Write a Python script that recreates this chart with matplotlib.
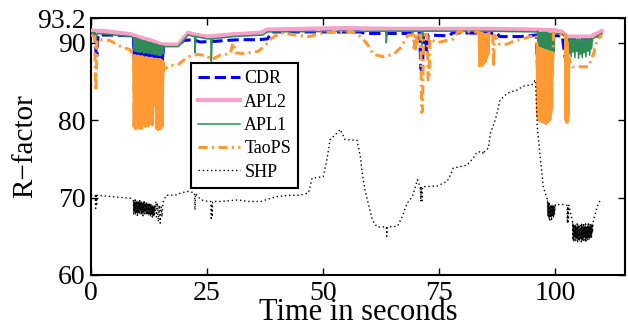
import numpy as np
import matplotlib
matplotlib.use('Agg')
import matplotlib.pyplot as plt

plt.rcParams['font.family'] = ['Liberation Serif', 'DejaVu Serif']

# (time, R-factor) pairs, one list per method
cdr = [(0.0, 91.0), (0.9, 91.0), (1.1, 88.6), (1.3, 88.4), (1.5, 91.0), (4.0, 91.0), (8.8, 90.9),
       (9.2, 90.6), (9.35, 87.8), (9.5, 90.5), (9.65, 87.6), (9.8, 90.5), (9.95, 87.9), (10.1, 90.4),
       (10.25, 87.7), (10.4, 90.4), (10.55, 87.6), (10.7, 90.3), (10.85, 87.8), (11.0, 90.3), (11.15, 87.5),
       (11.3, 90.2), (11.45, 87.7), (11.6, 90.2), (11.75, 87.6), (11.9, 90.1), (12.05, 87.8), (12.2, 90.1),
       (12.35, 87.5), (12.5, 90.0), (12.65, 87.7), (12.8, 90.0), (12.95, 87.4), (13.1, 89.9), (13.25, 87.6),
       (13.4, 89.9), (13.55, 87.3), (13.7, 89.8), (13.85, 87.5), (14.0, 89.8), (14.15, 87.3), (14.3, 89.7),
       (14.45, 87.4), (14.6, 89.7), (14.75, 87.2), (14.9, 89.7), (15.05, 87.4), (15.2, 89.6), (15.35, 87.8),
       (15.6, 89.7), (16.0, 89.7), (19.0, 89.8), (20.0, 90.3), (22.0, 90.4), (23.5, 90.1), (27.0, 90.2),
       (29.0, 90.3), (32.0, 90.4), (36.0, 90.4), (38.0, 90.5), (39.0, 91.4), (58.0, 91.4), (59.0, 91.2),
       (66.0, 91.2), (70.8, 91.2), (71.0, 86.7), (71.2, 86.5), (71.4, 86.8), (71.6, 91.0), (72.1, 91.0),
       (72.2, 89.1), (72.4, 89.0), (72.6, 91.0), (77.0, 90.9), (78.0, 91.3), (87.5, 91.2), (88.0, 90.8),
       (92.5, 90.8), (95.9, 91.0), (96.2, 86.3), (96.4, 86.0), (96.6, 89.0), (97.0, 88.5), (99.4, 88.8),
       (99.6, 90.9), (101.5, 90.9), (102.0, 88.5), (102.4, 87.2), (102.7, 90.5), (106.0, 90.5),
       (108.0, 90.4), (110.0, 91.3)]

apl2 = [(0.0, 91.6), (3.0, 91.5), (8.6, 91.1), (10.0, 90.8), (13.0, 90.3), (15.1, 89.8), (18.8, 89.75),
        (20.9, 91.3), (22.0, 91.1), (25.0, 90.8), (27.0, 90.9), (30.6, 91.1), (36.5, 91.3), (38.0, 91.7),
        (45.0, 91.8), (55.0, 91.9), (65.0, 91.8), (75.0, 91.8), (85.0, 91.8), (96.3, 91.7), (100.0, 91.6),
        (101.5, 91.4), (102.5, 90.8), (107.5, 90.8), (110.0, 91.5)]

apl1 = [(0.0, 91.3), (0.9, 91.3), (1.1, 90.2), (1.3, 91.2), (8.6, 90.8),
        (9.2, 90.6), (9.4, 89.0), (9.6, 90.6), (9.8, 88.9), (10.0, 90.5), (10.2, 88.9), (10.4, 90.4),
        (10.6, 88.8), (10.8, 90.3), (11.0, 88.9), (11.2, 90.2), (11.4, 88.7), (11.6, 90.2), (11.8, 88.8),
        (12.0, 90.1), (12.2, 88.7), (12.4, 90.0), (12.6, 88.7), (12.8, 90.0), (13.0, 88.6), (13.2, 89.9),
        (13.4, 88.6), (13.6, 89.8), (13.8, 88.5), (14.0, 89.8), (14.2, 88.5), (14.4, 89.7), (14.6, 88.4),
        (14.8, 89.6), (15.0, 88.4), (15.2, 89.6), (15.4, 88.6), (15.6, 89.5),
        (18.8, 89.5), (20.9, 91.0), (22.3, 90.8), (22.4, 88.7), (22.6, 90.8), (25.0, 90.5), (25.8, 90.5),
        (25.9, 87.6), (26.1, 90.5), (30.6, 90.8), (37.0, 91.0), (38.0, 91.4), (63.5, 91.5), (63.6, 90.0),
        (63.8, 91.5), (69.1, 91.5), (69.2, 91.0), (69.4, 91.5), (71.2, 91.5), (71.3, 89.6), (71.5, 91.5),
        (84.0, 91.5), (84.2, 91.0), (84.4, 91.5), (96.2, 91.4),
        (96.4, 89.4), (96.6, 91.3), (96.8, 89.3), (97.0, 91.3), (97.2, 89.2), (97.4, 91.3), (97.6, 89.1),
        (97.8, 91.3), (98.0, 89.0), (98.2, 91.3), (98.4, 88.9), (98.6, 91.2), (98.8, 88.8), (99.0, 91.2),
        (99.2, 88.7), (99.4, 91.2), (99.6, 88.7), (99.7, 91.2),
        (101.5, 91.1), (102.5, 90.5),
        (102.8, 90.5), (103.0, 88.6), (103.2, 90.5), (103.4, 88.2), (103.6, 90.5), (103.8, 88.8),
        (104.0, 90.5), (104.2, 88.1), (104.4, 90.5), (104.6, 88.9), (104.8, 90.5), (105.0, 88.0),
        (105.2, 90.5), (105.4, 88.5), (105.6, 90.5), (105.8, 88.1), (106.0, 90.5), (106.2, 88.7),
        (106.4, 90.5), (106.6, 88.2), (106.8, 90.5), (107.0, 88.9), (107.2, 90.5), (107.4, 88.4),
        (107.6, 90.5), (107.8, 89.2), (108.0, 90.5), (110.0, 91.2)]

taops = [(0.0, 91.0), (0.8, 90.8), (0.95, 85.0), (1.05, 83.8), (1.15, 86.0), (1.3, 90.4), (4.0, 90.3),
         (6.5, 89.5), (8.4, 89.1),
         (9.2, 88.3), (9.3, 79.2), (9.5, 88.3), (9.6, 78.9), (9.8, 88.2), (9.9, 79.4), (10.1, 88.3),
         (10.2, 79.0), (10.4, 88.2), (10.5, 79.3), (10.7, 88.1), (10.8, 78.9), (11.0, 88.2), (11.1, 79.5),
         (11.3, 88.1), (11.4, 79.6), (11.6, 88.0), (11.7, 79.2), (11.9, 88.1), (12.0, 79.8), (12.2, 88.0),
         (12.3, 79.3), (12.5, 88.0), (12.6, 79.6), (12.8, 87.9), (12.9, 80.5), (13.1, 88.0), (13.2, 79.4),
         (13.4, 87.9), (13.5, 82.0), (13.7, 87.8), (13.8, 86.0), (14.0, 87.9), (14.1, 79.0), (14.3, 87.8),
         (14.4, 78.8), (14.6, 87.8), (14.7, 79.1), (14.9, 87.8), (15.0, 78.9), (15.2, 87.7), (15.3, 79.2),
         (15.5, 87.5), (15.6, 86.5),
         (16.6, 87.0), (18.8, 87.2), (20.9, 88.2), (23.0, 88.5), (25.0, 88.3), (25.9, 87.8), (27.8, 88.4),
         (30.0, 88.6), (30.6, 90.0), (31.2, 88.7), (33.0, 88.6), (36.0, 88.9), (37.5, 89.6), (38.5, 90.4),
         (40.7, 91.3), (44.0, 91.0), (47.0, 90.8), (50.0, 91.3), (55.0, 91.4), (57.0, 91.3), (58.0, 90.8),
         (59.0, 90.2), (60.1, 89.3), (60.8, 88.5), (63.0, 88.2), (65.1, 88.5), (66.6, 89.3), (67.7, 90.4),
         (68.3, 91.0), (69.5, 91.0), (69.6, 89.3), (69.8, 90.8), (69.9, 89.2), (70.1, 90.9), (70.2, 89.6),
         (70.4, 91.0), (71.0, 91.0), (71.2, 81.0), (71.4, 81.2), (71.6, 91.0), (72.4, 91.0), (72.6, 85.2),
         (72.8, 85.4), (73.0, 90.5), (74.5, 90.0), (76.7, 90.3), (78.0, 90.5), (79.0, 91.4), (83.4, 91.4),
         (83.6, 91.3), (83.7, 87.0), (83.9, 91.2), (84.0, 87.2), (84.2, 91.2), (84.3, 87.1), (84.5, 91.1),
         (84.6, 87.4), (84.8, 91.1), (84.9, 87.6), (85.1, 91.0), (85.2, 88.0), (85.4, 91.1), (85.5, 88.6),
         (85.7, 91.2), (86.0, 91.2), (86.5, 91.0), (86.7, 86.9), (86.9, 91.0), (88.0, 89.8), (89.5, 89.8),
         (91.0, 90.2), (93.0, 90.5), (94.5, 90.8), (95.8, 91.0),
         (96.1, 89.3), (96.2, 80.5), (96.3, 89.3), (96.4, 80.0), (96.5, 89.2), (96.6, 80.8), (96.7, 89.2),
         (96.8, 79.9), (96.9, 89.2), (97.0, 80.3), (97.1, 89.1), (97.2, 79.8), (97.3, 89.1), (97.4, 80.6),
         (97.5, 89.0), (97.6, 79.7), (97.7, 89.0), (97.8, 80.2), (97.9, 89.0), (98.0, 79.6), (98.1, 88.9),
         (98.2, 80.0), (98.3, 88.9), (98.4, 79.8), (98.5, 88.8), (98.6, 80.4), (98.7, 88.8), (98.8, 80.1),
         (98.9, 88.7), (99.0, 80.9), (99.1, 88.7), (99.2, 81.5), (99.3, 88.7), (99.4, 86.0),
         (99.6, 91.2), (102.2, 91.0), (102.3, 80.0), (102.4, 90.5), (102.5, 79.7), (102.6, 90.0),
         (102.7, 80.5), (102.9, 88.0), (103.7, 86.9), (107.1, 86.9), (108.2, 88.5), (109.0, 90.4),
         (110.0, 91.0)]

shp = [(0.0, 70.3), (0.9, 70.3), (1.0, 68.6), (1.1, 70.2), (1.2, 68.9), (1.3, 70.3), (5.0, 70.1), (8.6, 69.9),
       (9.1, 69.6), (9.2, 67.9), (9.3, 69.4), (9.4, 68.2), (9.5, 69.7), (9.6, 67.8), (9.7, 69.5), (9.8, 68.0),
       (9.9, 69.6), (10.0, 67.7), (10.1, 69.3), (10.2, 68.1), (10.3, 69.5), (10.4, 67.9), (10.5, 69.6),
       (10.6, 68.3), (10.7, 69.4), (10.8, 67.8), (10.9, 69.5), (11.0, 68.0), (11.1, 69.3), (11.2, 67.6),
       (11.3, 69.4), (11.4, 68.1), (11.5, 69.5), (11.6, 67.9), (11.7, 69.2), (11.8, 68.2), (11.9, 69.4),
       (12.0, 67.8), (12.1, 69.3), (12.2, 68.0), (12.3, 69.1), (12.4, 67.7), (12.5, 69.3), (12.6, 67.9),
       (12.7, 69.0), (12.8, 67.6), (12.9, 69.2), (13.0, 67.8), (13.1, 68.9), (13.2, 67.5), (13.3, 69.0),
       (13.4, 67.7), (13.5, 68.8), (13.6, 67.6), (13.7, 68.9), (13.8, 68.3),
       (14.0, 69.5), (14.1, 67.5), (14.3, 69.3), (14.5, 66.9), (14.7, 69.0), (14.9, 66.7), (15.1, 68.8),
       (15.3, 67.5), (15.5, 69.4),
       (16.2, 70.3), (18.1, 70.3), (19.4, 70.6), (20.9, 70.8), (22.3, 70.6), (22.4, 68.4), (22.5, 70.5),
       (23.7, 69.7), (25.2, 69.5), (25.8, 69.5), (25.9, 67.1), (26.0, 69.2), (26.1, 67.5), (26.2, 69.5),
       (28.0, 69.5), (31.7, 69.7), (33.8, 69.5), (36.6, 69.5), (39.7, 70.1), (42.5, 70.3), (45.0, 70.3),
       (46.8, 70.6), (47.2, 71.4), (47.6, 72.5), (50.0, 72.7), (50.8, 74.9), (51.5, 77.5), (52.6, 78.1),
       (53.7, 78.8), (54.7, 77.5), (57.3, 77.4), (58.0, 75.3), (58.4, 73.2), (59.0, 71.0), (59.7, 69.3),
       (60.6, 67.1), (61.6, 66.2), (63.6, 66.2), (63.7, 65.0), (63.8, 66.2), (66.0, 66.3), (67.0, 67.5),
       (68.1, 69.3), (69.2, 70.1), (70.3, 72.3), (70.9, 71.4), (71.0, 69.5), (71.1, 71.4), (71.3, 69.6),
       (71.4, 71.4), (74.6, 71.5), (76.7, 72.1), (77.4, 72.9), (78.0, 73.8), (81.0, 74.2), (82.3, 75.1),
       (83.2, 75.9), (84.3, 75.9), (84.5, 75.6), (84.7, 75.9), (85.6, 76.4), (86.0, 78.3), (87.1, 80.1),
       (88.1, 82.6), (89.7, 83.5), (91.8, 83.9), (93.1, 84.4), (95.0, 84.6), (95.7, 85.2), (96.1, 79.2),
       (96.8, 74.9), (97.4, 71.4), (98.3, 69.7),
       (98.4, 67.6), (98.5, 69.4), (98.6, 67.3), (98.7, 69.2), (98.8, 67.1), (98.9, 69.0), (99.0, 67.5),
       (99.1, 68.9), (99.2, 67.2), (99.3, 69.1), (99.4, 67.6), (99.5, 68.9), (99.6, 67.4), (99.7, 69.0),
       (99.8, 67.8), (100.0, 69.1),
       (101.7, 69.1), (102.5, 69.0), (102.6, 66.7), (102.7, 68.9), (102.8, 66.9), (102.9, 69.0), (103.7, 66.9),
       (103.8, 64.5), (103.9, 66.6), (104.0, 64.3), (104.1, 66.4), (104.2, 64.9), (104.3, 66.5), (104.4, 64.4),
       (104.5, 66.2), (104.6, 64.7), (104.7, 66.6), (104.8, 64.3), (104.9, 66.3), (105.0, 64.6), (105.1, 66.5),
       (105.2, 64.4), (105.3, 66.1), (105.4, 64.8), (105.5, 66.4), (105.6, 64.3), (105.7, 66.6), (105.8, 64.6),
       (105.9, 66.2), (106.0, 64.4), (106.1, 66.5), (106.2, 64.9), (106.3, 66.3), (106.4, 64.5), (106.5, 66.6),
       (106.6, 64.3), (106.7, 66.2), (106.8, 64.7), (106.9, 66.4), (107.0, 64.5), (107.1, 66.6), (107.2, 64.8),
       (107.3, 66.3), (107.4, 64.6), (107.5, 66.5), (107.6, 65.0), (107.7, 66.4), (107.8, 64.9), (107.9, 66.6),
       (108.0, 65.5), (108.2, 67.1), (109.0, 68.8), (109.7, 69.7)]

# time windows where the series oscillate so fast they render as solid bands
cdr_bursts = [(9.2, 15.6)]
apl1_bursts = [(9.2, 15.6), (96.2, 99.7)]
taops_bursts = [(9.2, 15.6), (83.6, 85.7), (96.1, 99.4), (102.2, 102.9)]
shp_bursts = [(9.1, 13.8), (98.3, 100.0), (103.7, 108.0)]

yticks = [60, 70, 80, 90, 93.2]
ytick_labels = ['60', '70', '80', '90', '93.2']
xticks = [0, 25, 50, 75, 100]

fig = plt.figure(figsize=(6.28, 3.30), dpi=100)
ax = fig.add_axes([91/628, 55/330, 534/628, 257/330])

series = [
    (cdr, cdr_bursts, 'CDR', dict(color='#0000ff', lw=2.2, ls='--'), 2.2),
    (apl2, [], 'APL2', dict(color='#f7a0c8', lw=3.0, ls='-'), 3.0),
    (apl1, apl1_bursts, 'APL1', dict(color='#2e8b57', lw=1.1, ls='-'), 1.6),
    (taops, taops_bursts, 'TaoPS', dict(color='#ff9933', lw=2.2, ls=(0, (3, 1.4, 0.7, 1.4))), 2.2),
    (shp, shp_bursts, 'SHP', dict(color='black', lw=1.0, ls=(0, (1, 2))), 0.5),
]
for i, (pts, bursts, name, style, burst_lw) in enumerate(series):
    t, v = np.array(pts).T
    ax.plot(t, v, label=name, zorder=2 + i, **style)
    for t0, t1 in bursts:
        m = (t >= t0) & (t <= t1)
        ax.plot(t[m], v[m], color=style['color'], lw=burst_lw, ls='-', zorder=2 + i,
                alpha=0.85 if name == 'SHP' else 1)

ax.set_xlim(0, 115)
ax.set_ylim(60, 93.2)
ax.set_xticks(xticks)
ax.set_yticks(yticks)
ax.set_yticklabels(ytick_labels)
ax.tick_params(direction='in', length=5, width=1, top=True, right=True, labelsize=20, pad=4)
for s in ax.spines.values():
    s.set_linewidth(1.5)

ax.set_xlabel('Time in seconds', fontsize=22)
ax.xaxis.set_label_coords(0.5, -0.09)
ax.set_ylabel('R\u2212factor', fontsize=21)
ax.yaxis.set_label_coords(-0.098, 0.5)

leg = ax.legend(loc='upper left', bbox_to_anchor=(0.1873, 0.8249), borderaxespad=0,
                fontsize=13, fancybox=False, framealpha=1, edgecolor='black',
                handlelength=2.3, handletextpad=0.25, labelspacing=0.35, borderpad=0.4)
leg.get_frame().set_linewidth(1.5)
leg.set_zorder(10)

fig.savefig('out.png', dpi=100)
